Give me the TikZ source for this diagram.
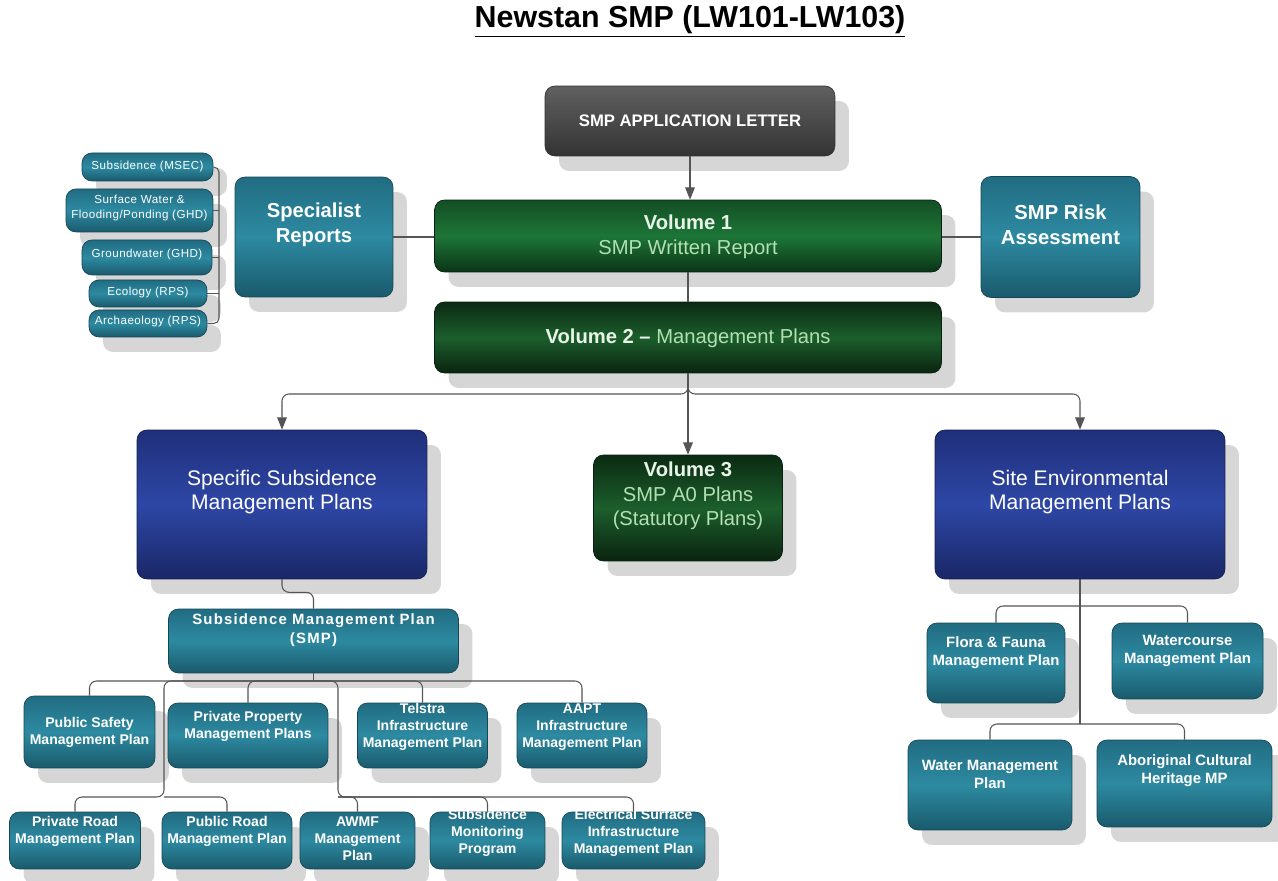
\documentclass[tikz,border=0pt]{standalone}
\usepackage{fontspec}
\setmainfont{Liberation Sans}
\newfontfamily\smallfont[LetterSpace=4]{Liberation Sans}
\newfontfamily\smpfont[LetterSpace=8]{Liberation Sans}
\usetikzlibrary{arrows.meta,shadows}
\definecolor{tealT}{HTML}{216C82}
\definecolor{tealM}{HTML}{2D8AA1}
\definecolor{tealB}{HTML}{1A5A6C}
\definecolor{tealD}{HTML}{154656}
\definecolor{navyT}{HTML}{1F2F7A}
\definecolor{navyM}{HTML}{2E47A6}
\definecolor{navyB}{HTML}{1A2766}
\definecolor{navyD}{HTML}{141E50}
\definecolor{grnT}{HTML}{134E24}
\definecolor{grnM}{HTML}{1D7638}
\definecolor{grnB}{HTML}{0B3416}
\definecolor{dgrT}{HTML}{0B2A12}
\definecolor{dgrM}{HTML}{1C5E2C}
\definecolor{dgrB}{HTML}{0A2410}
\definecolor{grnD}{HTML}{082010}
\definecolor{grayT}{HTML}{606060}
\definecolor{grayM}{HTML}{4A4A4A}
\definecolor{grayB}{HTML}{333333}
\definecolor{paleG}{HTML}{B3E0B3}
\definecolor{whiteG}{HTML}{E8F4E8}
\definecolor{lineC}{HTML}{555555}
\tikzset{
  shad/.style={drop shadow={shadow xshift=0.28cm, shadow yshift=-0.3cm, fill=black!16, opacity=1}},
  tealbox/.style={inner sep=0pt, rounded corners=0.2cm, draw=tealD, line width=0.4pt, top color=tealT, bottom color=tealB, middle color=tealM, shad},
  navybox/.style={inner sep=0pt, rounded corners=0.2cm, draw=navyD, line width=0.4pt, top color=navyT, bottom color=navyB, middle color=navyM, shad},
  grnbox/.style={inner sep=0pt, rounded corners=0.2cm, draw=grnD, line width=0.4pt, top color=grnT, bottom color=grnB, middle color=grnM, shad},
  dgrbox/.style={inner sep=0pt, rounded corners=0.2cm, draw=grnD, line width=0.4pt, top color=dgrT, bottom color=dgrB, middle color=dgrM, shad},
  graybox/.style={inner sep=0pt, rounded corners=0.2cm, draw=black!80, line width=0.4pt, top color=grayT, bottom color=grayB, middle color=grayM, shad},
  txtb/.style={text=white, font=\bfseries\fontsize{8}{9.6}\selectfont, align=center, inner sep=0pt},
  txtr/.style={text=white, font=\bfseries\fontsize{8.5}{10.2}\selectfont, align=center, inner sep=0pt},
  txts/.style={text=white, font=\smallfont\fontsize{6.6}{9}\selectfont, align=center, inner sep=0pt},
  txtbig/.style={text=white, font=\fontsize{12}{14}\selectfont, align=center, inner sep=0pt},
  txtvol/.style={text=paleG, font=\fontsize{11.5}{14}\selectfont, align=center, inner sep=0pt},
  conn/.style={draw=lineC, line width=0.6pt, rounded corners=4pt},
  arr/.style={conn, -{Triangle[length=7pt,width=5.5pt]}}
}
\begin{document}
\begin{tikzpicture}[x=0.02cm,y=-0.02cm]
\useasboundingbox (0,0) rectangle (1278,881);

% title
\node[font=\bfseries\fontsize{17.3}{20}\selectfont, inner sep=0pt] (title) at (690,21) {\underline{Newstan SMP (LW101-LW103)}};

% top chain
\node[graybox, minimum width=5.8cm, minimum height=1.4cm, text=white, font=\bfseries\fontsize{9.5}{11}\selectfont] (app) at (690,121) {SMP APPLICATION LETTER};
\node[grnbox, minimum width=10.14cm, minimum height=1.44cm] (vol1) at (688,236) {};
\node[txtvol] (vol1T) at (688,237) {\textcolor{whiteG}{\bfseries Volume 1}\\SMP Written Report};
\node[dgrbox, minimum width=10.14cm, minimum height=1.42cm] (vol2) at (688,337.5) {};
\node[txtvol] (vol2T) at (688,338) {\textcolor{whiteG}{\bfseries Volume 2 --} Management Plans};

% specialist reports and left small boxes
\node[tealbox, minimum width=2.62cm, minimum height=0.56cm] (sub) at (147.5,167) {};
\node[txts] (subT) at (147.5,167) {Subsidence (MSEC)};
\node[tealbox, minimum width=2.94cm, minimum height=0.86cm] (surf) at (139.5,210.5) {};
\node[txts] (surfT) at (139.5,208) {Surface Water \&\\Flooding/Ponding (GHD)};
\node[tealbox, minimum width=2.6cm, minimum height=0.7cm] (gw) at (147,257.5) {};
\node[txts] (gwT) at (147,255) {Groundwater (GHD)};
\node[tealbox, minimum width=2.36cm, minimum height=0.54cm] (eco) at (148,293.5) {};
\node[txts] (ecoT) at (148,293) {Ecology (RPS)};
\node[tealbox, minimum width=2.36cm, minimum height=0.54cm] (arch) at (148,323.5) {};
\node[txts] (archT) at (148,322) {Archaeology (RPS)};

\node[tealbox, minimum width=3.16cm, minimum height=2.4cm] (spec) at (314,237) {};
\node[txtbig, font=\bfseries\fontsize{11.5}{14}\selectfont] (specT) at (314,225) {Specialist\\Reports};
\node[tealbox, minimum width=3.18cm, minimum height=2.42cm] (risk) at (1060.5,237) {};
\node[txtbig, font=\bfseries\fontsize{11.5}{14}\selectfont] (riskT) at (1060.5,225) {SMP Risk\\Assessment};

% middle row
\node[navybox, minimum width=5.8cm, minimum height=2.98cm] (ssmp) at (282,504.5) {};
\node[txtbig] (ssmpT) at (282,492) {Specific Subsidence\\Management Plans};
\node[dgrbox, minimum width=3.78cm, minimum height=2.12cm] (vol3) at (688,508) {};
\node[txtvol] (vol3T) at (688,496) {\textcolor{whiteG}{\bfseries Volume 3}\\SMP A0 Plans\\(Statutory Plans)};
\node[navybox, minimum width=5.8cm, minimum height=2.98cm] (site) at (1080,504.5) {};
\node[txtbig] (siteT) at (1080,492) {Site Environmental\\Management Plans};

% SMP
\node[tealbox, minimum width=5.8cm, minimum height=1.28cm] (smp) at (313.5,641) {};
\node[text=white, font=\smpfont\bfseries\fontsize{8.5}{10.5}\selectfont, align=center, inner sep=0pt] (smpT) at (313.5,630) {Subsidence Management Plan\\(SMP)};

% row 1
\node[tealbox, minimum width=2.62cm, minimum height=1.44cm] (ps) at (89.5,732) {};
\node[txtb] (psT) at (89.5,732) {Public Safety\\Management Plan};
\node[tealbox, minimum width=3.2cm, minimum height=1.3cm] (pp) at (248,735.5) {};
\node[txtb] (ppT) at (248,726) {Private Property\\Management Plans};
\node[tealbox, minimum width=2.6cm, minimum height=1.3cm] (tel) at (422.5,735.5) {};
\node[txtb] (telT) at (422.5,727) {Telstra\\Infrastructure\\Management Plan};
\node[tealbox, minimum width=2.6cm, minimum height=1.3cm] (aapt) at (582,735.5) {};
\node[txtb] (aaptT) at (582,727) {AAPT\\Infrastructure\\Management Plan};

% row 2
\node[tealbox, minimum width=2.62cm, minimum height=1.14cm] (prr) at (75,840.5) {};
\node[txtb] (prrT) at (75,831) {Private Road\\Management Plan};
\node[tealbox, minimum width=2.6cm, minimum height=1.14cm] (pbr) at (227,840.5) {};
\node[txtb] (pbrT) at (227,831) {Public Road\\Management Plan};
\node[tealbox, minimum width=2.3cm, minimum height=1.14cm] (awmf) at (357.5,840.5) {};
\node[txtb] (awmfT) at (357.5,839) {AWMF\\Management\\Plan};
\node[tealbox, minimum width=2.3cm, minimum height=1.14cm] (mon) at (487.5,840.5) {};
\node[txtb] (monT) at (487.5,833) {Subsidence\\Monitoring\\Program};
\node[tealbox, minimum width=2.86cm, minimum height=1.14cm] (elec) at (633.5,840.5) {};
\node[txtb] (elecT) at (633.5,833) {Electrical Surface\\Infrastructure\\Management Plan};

% right side
\node[tealbox, minimum width=2.76cm, minimum height=1.6cm] (flora) at (996,663) {};
\node[txtr] (floraT) at (996,653) {Flora \& Fauna\\Management Plan};
\node[tealbox, minimum width=3.02cm, minimum height=1.52cm] (wc) at (1187.5,661) {};
\node[txtr] (wcT) at (1187.5,651) {Watercourse\\Management Plan};
\node[tealbox, minimum width=3.28cm, minimum height=1.8cm] (water) at (990,785) {};
\node[txtr] (waterT) at (990,774) {Water Management\\Plan};
\node[tealbox, minimum width=3.5cm, minimum height=1.74cm] (abor) at (1184.5,783.5) {};
\node[txtr] (aborT) at (1184.5,771) {Aboriginal Cultural\\Heritage MP};

% connectors
\coordinate (brk) at (219,323.5);
\draw[conn, rounded corners=3pt] (sub.east) -| (brk) -- (arch.east);
\draw[conn] (surf.east) -- (surf.east -| brk);
\draw[conn] (gw.east) -- (gw.east -| brk);
\draw[conn] (eco.east) -- (eco.east -| brk);

\draw[conn] (spec.east) -- (spec.east -| vol1.west);
\draw[conn] (risk.west) -- (risk.west -| vol1.east);

\draw[arr] (app.south) -- (app.south |- vol1.north);
\draw[conn] (vol1.south) -- (vol2.north);

\coordinate (bus) at (688,394);
\draw[arr] (vol2.south) -- (vol3.north);
\draw[arr] (vol2.south) -- (bus) -| (ssmp.north);
\draw[arr] (vol2.south) -- (bus) -| (site.north);

\draw[conn] (ssmp.south) -- ++(0,13) -| (smp.north);

\coordinate (smpbus) at (313.5,681);
\coordinate (lbus) at (164,797);
\coordinate (rbus) at (338,797);
\draw[conn] (smp.south) -- (smpbus);
\draw[conn] (smpbus) -| (ps.north);
\draw[conn] (smpbus) -| (pp.north);
\draw[conn] (smpbus) -| (tel.north);
\draw[conn] (smpbus) -| (aapt.north);
\draw[conn] (smpbus) -| (lbus) -| (prr.north);
\draw[conn] (lbus) -| (pbr.north);
\draw[conn] (smpbus) -| (rbus) -| (awmf.north);
\draw[conn] (rbus) -| (mon.north);
\draw[conn] (rbus) -| (elec.north);

\coordinate (sbus1) at (1080,606);
\coordinate (sbus2) at (1080,724);
\draw[conn] (site.south) -- (sbus2);
\draw[conn] (sbus1) -| (flora.north);
\draw[conn] (sbus1) -| (wc.north);
\draw[conn] (sbus2) -| (water.north);
\draw[conn] (sbus2) -| (abor.north);
\end{tikzpicture}
\end{document}
